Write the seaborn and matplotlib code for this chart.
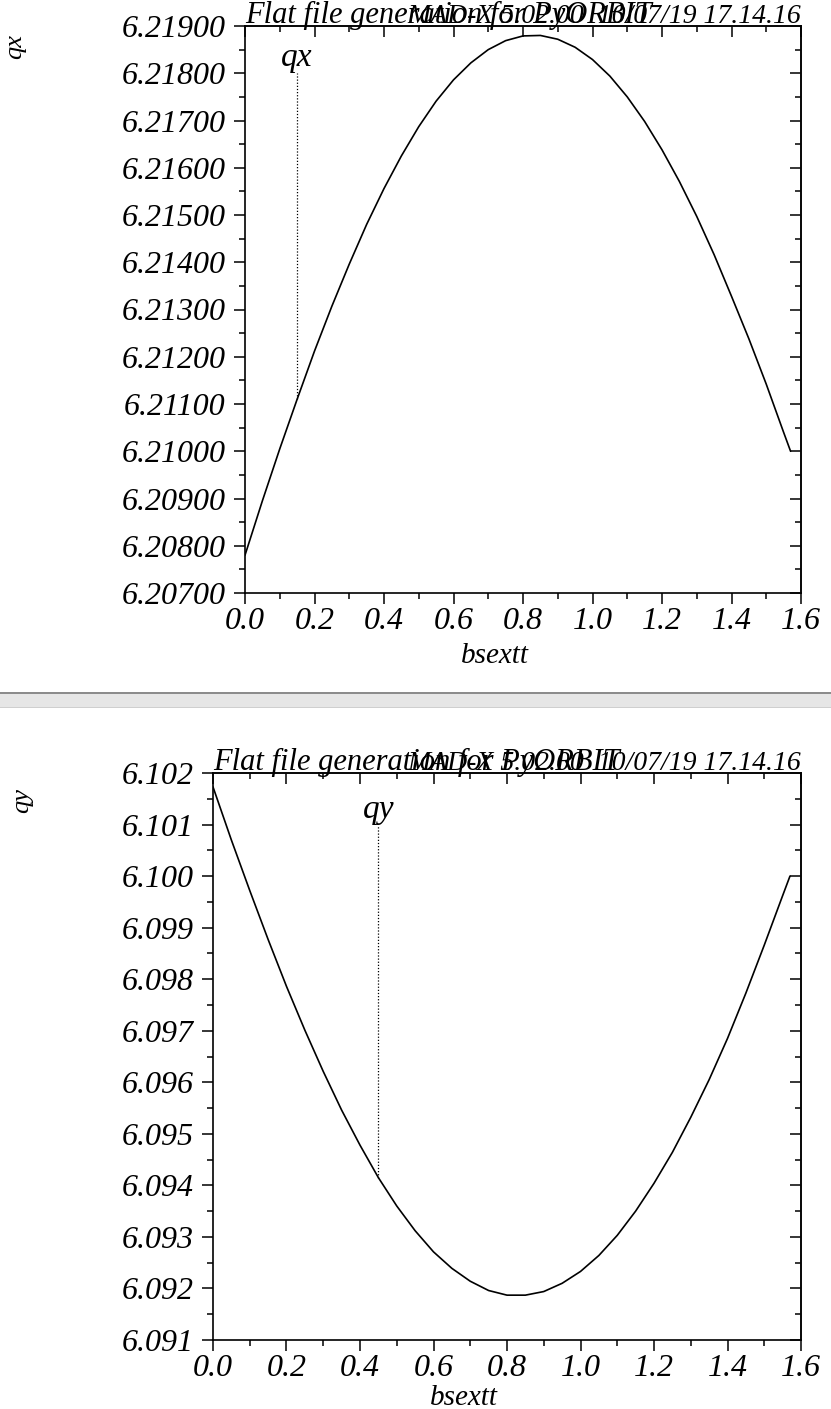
"""Tune scan plots: qx and qy against bsextt."""

import matplotlib

matplotlib.use("Agg")
import matplotlib.pyplot as plt
import numpy as np
import pandas as pd
import seaborn as sns
from matplotlib.patches import Rectangle
from matplotlib.ticker import FormatStrFormatter, MultipleLocator

# values
bsextt = [0.0, 0.05, 0.1, 0.15, 0.2, 0.25, 0.3, 0.35, 0.4, 0.45, 0.5, 0.55,
          0.6, 0.65, 0.7, 0.75, 0.8, 0.85, 0.9, 0.95, 1.0, 1.05, 1.1, 1.15,
          1.2, 1.25, 1.3, 1.35, 1.4, 1.45, 1.5, 1.55, 1.57]
qx = [6.20780, 6.20895, 6.21005, 6.21110, 6.21212, 6.21307, 6.21396, 6.21480,
      6.21556, 6.21625, 6.21687, 6.21741, 6.21786, 6.21822, 6.21850, 6.21869,
      6.21879, 6.21880, 6.21872, 6.21855, 6.21829, 6.21794, 6.21750, 6.21698,
      6.21638, 6.21571, 6.21497, 6.21416, 6.21328, 6.21238, 6.21142, 6.21040,
      6.21000]
qy = [6.10173, 6.10070, 6.09972, 6.09877, 6.09786, 6.09701, 6.09621, 6.09546,
      6.09478, 6.09415, 6.09360, 6.09312, 6.09271, 6.09239, 6.09214, 6.09196,
      6.09187, 6.09187, 6.09194, 6.09210, 6.09233, 6.09264, 6.09303, 6.09350,
      6.09404, 6.09464, 6.09532, 6.09605, 6.09685, 6.09773, 6.09866, 6.09962,
      6.10000]

title_left = "Flat file generation for PyORBIT"
title_right = "MAD-X 5.02.00  10/07/19 17.14.16"

# curve label positions (x of the marker line, y of its top)
qx_label_x, qx_label_top = 0.15, 6.21800
qy_label_x, qy_label_top = 0.45, 6.10100

df = pd.DataFrame({"bsextt": bsextt, "qx": qx, "qy": qy})

sns.set_theme(style="white")
plt.rcParams["font.family"] = ["Liberation Serif", "DejaVu Serif"]
plt.rcParams["font.style"] = "italic"
plt.rcParams["axes.linewidth"] = 1.2
plt.rcParams["text.color"] = "black"
plt.rcParams["axes.labelcolor"] = "black"
plt.rcParams["xtick.color"] = "black"
plt.rcParams["ytick.color"] = "black"

W, H = 831, 1409
fig = plt.figure(figsize=(W / 100, H / 100), dpi=100)


def make_panel(rect, ycol, ylim, ymajor, yfmt, label_x, label_top, ylabel_pos, xlabel_pos):
    ax = fig.add_axes(rect)
    sns.lineplot(data=df, x="bsextt", y=ycol, ax=ax, color="black", lw=1.2)
    ax.set_xlim(0.0, 1.6)
    ax.set_ylim(*ylim)

    ax.xaxis.set_major_locator(MultipleLocator(0.2))
    ax.xaxis.set_minor_locator(MultipleLocator(0.1))
    ax.xaxis.set_major_formatter(FormatStrFormatter("%.1f"))
    ax.yaxis.set_major_locator(MultipleLocator(ymajor))
    ax.yaxis.set_minor_locator(MultipleLocator(ymajor / 2))
    ax.yaxis.set_major_formatter(FormatStrFormatter(yfmt))

    # left/bottom ticks point outwards, right/top ticks inwards
    ax.tick_params(which="both", direction="out", top=False, right=False,
                   left=True, bottom=True, width=1.1, labelsize=23, colors="black")
    ax.tick_params(which="major", length=8)
    ax.tick_params(which="minor", length=4)
    ax.tick_params(axis="y", pad=6)
    ax.tick_params(axis="x", pad=2)

    sec_y = ax.secondary_yaxis("right")
    sec_y.yaxis.set_major_locator(MultipleLocator(ymajor))
    sec_y.yaxis.set_minor_locator(MultipleLocator(ymajor / 2))
    sec_y.tick_params(which="both", direction="in", labelright=False, width=1.1)
    sec_y.tick_params(which="major", length=8)
    sec_y.tick_params(which="minor", length=4)

    sec_x = ax.secondary_xaxis("top")
    sec_x.xaxis.set_major_locator(MultipleLocator(0.2))
    sec_x.xaxis.set_minor_locator(MultipleLocator(0.1))
    sec_x.tick_params(which="both", direction="in", labeltop=False, width=1.1)
    sec_x.tick_params(which="major", length=8)
    sec_x.tick_params(which="minor", length=4)

    for sp in ax.spines.values():
        sp.set_color("black")
        sp.set_linewidth(1.2)

    ax.set_xlabel("bsextt", fontsize=21, color="black")
    ax.xaxis.set_label_coords(*xlabel_pos)
    ax.set_ylabel(ycol, fontsize=19, rotation=90, color="black")
    ax.yaxis.label.set(ha="center", va="center", rotation_mode="anchor")
    ax.yaxis.set_label_coords(*ylabel_pos)

    # two header strings that overlap, as in the original output
    ax.text(0.0, 1.006, title_left, transform=ax.transAxes, ha="left",
            va="baseline", fontsize=22, color="black")
    ax.text(1.0, 1.006, title_right, transform=ax.transAxes, ha="right",
            va="baseline", fontsize=20, color="black")

    # curve label with dotted marker line down to the curve
    y_curve = np.interp(label_x, df["bsextt"], df[ycol])
    ax.vlines(label_x, y_curve, label_top, colors="black", linestyles=(0, (1, 1.5)),
              lw=0.9)
    ax.text(label_x, label_top, ycol, ha="center", va="bottom", fontsize=24,
            color="black")
    return ax


ax1 = make_panel([245 / W, (H - 593) / H, 556 / W, 567 / H], "qx",
                 (6.207, 6.219), 0.001, "%.5f", qx_label_x, qx_label_top,
                 (-0.414, 0.963), (0.45, -0.088))
ax2 = make_panel([213 / W, (H - 1340) / H, 588 / W, 567 / H], "qy",
                 (6.091, 6.102), 0.001, "%.3f", qy_label_x, qy_label_top,
                 (-0.325, 0.952), (0.427, -0.079))

# grey separator between the two plot windows
fig.add_artist(Rectangle((0, (H - 707) / H), 1, 14 / H, transform=fig.transFigure,
                         facecolor="#e6e6e6", edgecolor="none"))
fig.add_artist(Rectangle((0, (H - 694) / H), 1, 2 / H, transform=fig.transFigure,
                         facecolor="#8c8c8c", edgecolor="none"))
fig.add_artist(Rectangle((0, (H - 708) / H), 1, 1 / H, transform=fig.transFigure,
                         facecolor="#cfcfcf", edgecolor="none"))

fig.savefig("out.png", dpi=100)
plt.close(fig)
